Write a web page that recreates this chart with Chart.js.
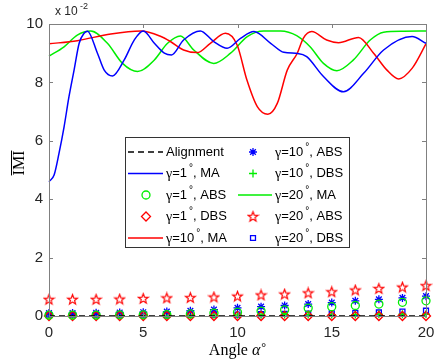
<!DOCTYPE html>
<html>
<head>
<meta charset="utf-8">
<script src="https://cdn.jsdelivr.net/npm/chart.js@4.4.1/dist/chart.umd.min.js"></script>
<style>
  html, body { margin: 0; padding: 0; background: #fff; }
</style>
</head>
<body>
<canvas id="imiChart" width="436" height="361"></canvas>
<script>
// angle grid of the marker series
const alphaPts = [0, 1.25, 2.5, 3.75, 5, 6.25, 7.5, 8.75, 10, 11.25, 12.5, 13.75, 15, 16.25, 17.5, 18.75, 20]

// values are in units of 1e-2
const alignX = [0, 20]
const alignY = [0, 0]

const g1maX = [0, 0.27, 0.53, 0.8, 1.06, 1.33, 1.6, 1.86, 2.04, 2.57, 2.93, 3.37, 3.99, 4.52, 5.0, 5.59, 6.12, 6.5, 7.14, 8.03, 8.74, 9.45, 10.16, 10.87, 11.76, 12.46, 13.2, 13.67, 14.56, 15.62, 16.69, 17.75, 19.26, 20]
const g1maY = [4.6, 4.83, 5.57, 6.48, 7.51, 8.42, 9.34, 9.68, 9.75, 9.0, 8.42, 8.22, 8.77, 9.45, 9.76, 9.34, 9.0, 8.94, 9.45, 9.76, 9.4, 9.17, 9.51, 9.74, 9.34, 9.03, 8.99, 8.88, 8.2, 7.68, 8.31, 9.11, 9.57, 9.34]

const g10maX = [0, 1.5, 3.28, 4.88, 5.94, 6.44, 7.14, 7.86, 8.56, 9.36, 9.98, 10.5, 11.05, 11.61, 12.11, 12.64, 13.17, 13.49, 13.94, 14.73, 15.36, 16.42, 17.22, 17.93, 18.55, 19.26, 20]
const g10maY = [9.32, 9.43, 9.66, 9.76, 9.57, 9.4, 9.11, 9.02, 9.34, 9.68, 9.28, 8.08, 7.17, 6.91, 7.28, 8.42, 9.0, 9.51, 9.74, 9.45, 9.36, 9.54, 9.0, 8.42, 8.12, 8.48, 9.32]

const g20maX = [0, 0.8, 1.5, 2.22, 3.1, 3.9, 4.7, 5.59, 6.29, 6.97, 7.68, 8.74, 9.63, 10.52, 11.4, 12.29, 13.14, 13.85, 14.56, 15.27, 16.15, 17.04, 17.75, 18.8, 20]
const g20maY = [8.9, 9.22, 9.62, 9.76, 9.34, 8.65, 8.37, 8.77, 9.34, 9.59, 9.11, 8.65, 9.0, 9.57, 9.76, 9.76, 9.6, 9.22, 8.65, 8.4, 8.77, 9.45, 9.72, 9.75, 9.76]

const g1abs  = [0.03, 0.03, 0.03, 0.04, 0.04, 0.05, 0.07, 0.1, 0.13, 0.17, 0.21, 0.27, 0.32, 0.36, 0.41, 0.47, 0.52]
const g1dbs  = [0, 0, 0, 0, 0, 0, 0, 0, 0, 0, 0, 0, 0, 0, 0, 0, 0]
const g10abs = [0.1, 0.1, 0.11, 0.12, 0.13, 0.15, 0.18, 0.22, 0.28, 0.32, 0.36, 0.41, 0.46, 0.52, 0.57, 0.62, 0.68]
const g10dbs = [0.03, 0.03, 0.03, 0.03, 0.03, 0.03, 0.04, 0.04, 0.04, 0.04, 0.05, 0.05, 0.05, 0.05, 0.06, 0.06, 0.06]
const g20abs = [0.57, 0.57, 0.57, 0.58, 0.6, 0.62, 0.63, 0.65, 0.68, 0.72, 0.75, 0.79, 0.83, 0.89, 0.94, 0.99, 1.04]
const g20dbs = [0.05, 0.05, 0.05, 0.05, 0.05, 0.05, 0.05, 0.05, 0.05, 0.06, 0.07, 0.08, 0.09, 0.11, 0.12, 0.15, 0.18]

const xTicks = [0, 5, 10, 15, 20]
const yTicks = [0, 2, 4, 6, 8, 10]

const toXY = (xs, ys) => xs.map((x, i) => ({x: x, y: ys[i]}))

// pentagram marker (matlab 'p')
function pentagram(color) {
    const c = document.createElement('canvas')
    c.width = 13; c.height = 13
    const g = c.getContext('2d')
    g.strokeStyle = color
    g.lineWidth = 1.2
    g.beginPath()
    for (let i = 0; i < 10; i++) {
        const r = i % 2 === 0 ? 5.2 : 2.2
        const a = -Math.PI / 2 + i * Math.PI / 5
        const px = 6.5 + r * Math.cos(a), py = 6.9 + r * Math.sin(a)
        if (i === 0) g.moveTo(px, py); else g.lineTo(px, py)
    }
    g.closePath()
    g.stroke()
    return c
}

const lineDs = (label, xs, ys, color, dash) => ({
    label: label, data: toXY(xs, ys), borderColor: color, backgroundColor: color,
    borderWidth: 1.5, borderDash: dash || [], pointRadius: 0,
    cubicInterpolationMode: 'monotone', showLine: true, clip: false, isLine: true
})
const markDs = (label, ys, color, style, radius) => ({
    label: label, data: toXY(alphaPts, ys), borderColor: color, backgroundColor: 'rgba(0,0,0,0)',
    showLine: false, pointStyle: style, pointRadius: radius, pointHoverRadius: radius,
    pointBorderWidth: 1.3, clip: false
})

const datasets = [
    lineDs('Alignment', alignX, alignY, '#000000', [6, 4]),
    lineDs('γ=1°, MA', g1maX, g1maY, '#0000ff'),
    markDs('γ=1°, ABS', g1abs, '#00ee00', 'circle', 4),
    markDs('γ=1°, DBS', g1dbs, '#ff0000', 'rectRot', 4.5),
    lineDs('γ=10°, MA', g10maX, g10maY, '#ff0000'),
    markDs('γ=10°, ABS', g10abs, '#0000ff', 'star', 4),
    markDs('γ=10°, DBS', g10dbs, '#00ee00', 'cross', 4),
    lineDs('γ=20°, MA', g20maX, g20maY, '#00ee00'),
    markDs('γ=20°, ABS', g20abs, '#ff0000', pentagram('#ff0000'), 5),
    markDs('γ=20°, DBS', g20dbs, '#0000ff', 'rect', 3.5)
]

const SANS = '"Liberation Sans", Arial, sans-serif'
const SERIF = '"Liberation Serif", "Times New Roman", serif'

// frame, inward ticks, x tick labels, axis titles, exponent, legend
const decorations = {
    id: 'decorations',
    afterDraw(chart) {
        const ctx = chart.ctx
        const a = chart.chartArea
        const xs = chart.scales.x, ys = chart.scales.y
        ctx.save()
        ctx.strokeStyle = '#808080'
        ctx.lineWidth = 1
        ctx.strokeRect(Math.round(a.left) + 0.5, Math.round(a.top) + 0.5,
            Math.round(a.right - a.left), Math.round(a.bottom - a.top))
        ctx.beginPath()
        xTicks.forEach(v => {
            const px = Math.round(xs.getPixelForValue(v)) + 0.5
            ctx.moveTo(px, a.bottom); ctx.lineTo(px, a.bottom - 4)
            ctx.moveTo(px, a.top); ctx.lineTo(px, a.top + 4)
        })
        yTicks.forEach(v => {
            const py = Math.round(ys.getPixelForValue(v)) + 0.5
            ctx.moveTo(a.left, py); ctx.lineTo(a.left + 4, py)
            ctx.moveTo(a.right, py); ctx.lineTo(a.right - 4, py)
        })
        ctx.stroke()

        // x tick labels
        ctx.fillStyle = '#262626'
        ctx.font = '15px ' + SANS
        ctx.textAlign = 'center'
        ctx.textBaseline = 'top'
        xTicks.forEach(v => ctx.fillText(String(v), xs.getPixelForValue(v), a.bottom + 9))

        // exponent label
        ctx.textBaseline = 'alphabetic'
        ctx.textAlign = 'left'
        ctx.font = '12px ' + SANS
        ctx.fillText('x 10', 55, 15)
        ctx.font = '9px ' + SANS
        ctx.fillText('-2', 80, 9)

        // y title with overline
        ctx.save()
        ctx.translate(19, 163)
        ctx.rotate(-Math.PI / 2)
        ctx.font = '16px ' + SERIF
        ctx.textAlign = 'center'
        ctx.textBaseline = 'alphabetic'
        ctx.fillStyle = '#000'
        ctx.fillText('IMI', 0, 5)
        const w = ctx.measureText('IMI').width
        ctx.strokeStyle = '#000'
        ctx.lineWidth = 1
        ctx.beginPath()
        ctx.moveTo(-w / 2, -7.5); ctx.lineTo(w / 2, -7.5)
        ctx.stroke()
        ctx.restore()

        // x title
        ctx.fillStyle = '#000'
        ctx.font = '16px ' + SERIF
        const p1 = 'Angle ', p2 = 'α'
        const w1 = ctx.measureText(p1).width
        ctx.font = 'italic 16px ' + SERIF
        const w2 = ctx.measureText(p2).width
        ctx.font = '12px ' + SERIF
        const w3 = ctx.measureText('°').width
        let tx = 237 - (w1 + w2 + w3) / 2
        ctx.font = '16px ' + SERIF
        ctx.fillText(p1, tx, 355); tx += w1
        ctx.font = 'italic 16px ' + SERIF
        ctx.fillText(p2, tx, 355); tx += w2 + 1
        ctx.font = '12px ' + SERIF
        ctx.fillText('°', tx, 351)

        // legend box
        ctx.fillStyle = '#fff'
        ctx.fillRect(125, 137, 224, 110)
        ctx.strokeStyle = '#333'
        ctx.lineWidth = 1
        ctx.strokeRect(125.5, 137.5, 224, 110)
        const rows = [152, 173.5, 195, 216.5, 238]
        const cols = [{l0: 128, l1: 163, m: 146, t: 166}, {l0: 238, l1: 272, m: 253, t: 275}]
        chart.data.datasets.forEach((ds, i) => {
            const col = cols[Math.floor(i / 5)]
            const ry = rows[i % 5]
            ctx.save()
            if (ds.isLine) {
                ctx.strokeStyle = ds.borderColor
                ctx.lineWidth = ds.borderWidth
                ctx.setLineDash(ds.borderDash)
                ctx.beginPath()
                ctx.moveTo(col.l0, ry); ctx.lineTo(col.l1, ry)
                ctx.stroke()
            } else {
                ctx.strokeStyle = ds.borderColor
                ctx.fillStyle = 'rgba(0,0,0,0)'
                ctx.lineWidth = ds.pointBorderWidth
                Chart.helpers.drawPoint(ctx, {pointStyle: ds.pointStyle, radius: ds.pointRadius, rotation: 0, borderWidth: ds.pointBorderWidth}, col.m, ry)
            }
            ctx.restore()
            ctx.fillStyle = '#000'
            ctx.textBaseline = 'middle'
            ctx.textAlign = 'left'
            const m = /^γ=(\d+)°, (\w+)$/.exec(ds.label)
            let x = col.t
            if (!m) {
                ctx.font = '13px ' + SANS
                ctx.fillText(ds.label, x, ry)
                return
            }
            ctx.font = '14px ' + SERIF
            ctx.fillText('γ', x, ry + 1); x += ctx.measureText('γ').width
            ctx.font = '13px ' + SANS
            ctx.fillText('=' + m[1], x, ry); x += ctx.measureText('=' + m[1]).width + 2
            ctx.font = '10px ' + SANS
            ctx.fillText('°', x, ry - 5); x += ctx.measureText('°').width
            ctx.font = '13px ' + SANS
            ctx.fillText(', ' + m[2], x, ry)
        })
        ctx.restore()
    }
}

const config = {
    type: 'line',
    data: {datasets: datasets},
    options: {
        responsive: false,
        animation: false,
        devicePixelRatio: 1,
        layout: {padding: {top: 24, right: 10, left: 0, bottom: 0}},
        plugins: {legend: {display: false}, tooltip: {enabled: false}},
        scales: {
            x: {
                type: 'linear', min: 0, max: 20,
                afterFit: s => { s.height = 45 },
                grid: {display: false, drawTicks: false},
                border: {display: false},
                ticks: {display: false}
            },
            y: {
                type: 'linear', min: 0, max: 10,
                afterFit: s => { s.width = 49 },
                afterBuildTicks: s => { s.ticks = yTicks.map(v => ({value: v})) },
                grid: {display: false, drawTicks: false},
                border: {display: false},
                ticks: {padding: 6, color: '#262626', font: {family: SANS, size: 15}}
            }
        }
    },
    plugins: [decorations]
}

const imiChart = new Chart(document.getElementById('imiChart'), config)
</script>
</body>
</html>
